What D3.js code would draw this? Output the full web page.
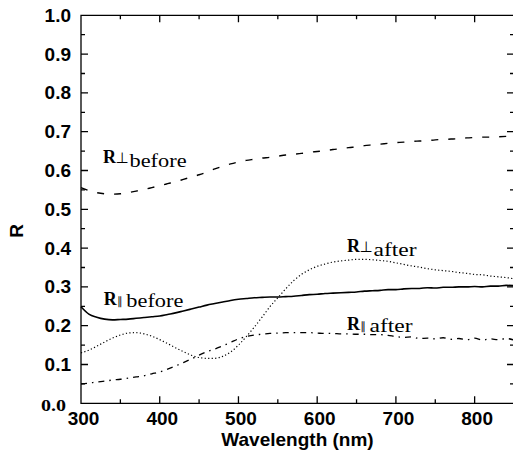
<!DOCTYPE html>
<html>
<head>
<meta charset="utf-8">
<script src="https://cdn.jsdelivr.net/npm/d3@7"></script>
<style>
    body { margin: 0; background: #fff; }
</style>
</head>
<body>
<script>
// wavelength grid (nm) every 10 nm
const wavelengths = [
    300, 310, 320, 330, 340, 350, 360, 370, 380, 390,
    400, 410, 420, 430, 440, 450, 460, 470, 480, 490,
    500, 510, 520, 530, 540, 550, 560, 570, 580, 590,
    600, 610, 620, 630, 640, 650, 660, 670, 680, 690,
    700, 710, 720, 730, 740, 750, 760, 770, 780, 790,
    800, 810, 820, 830, 840, 850
];

// R perpendicular, before (dashed)
const perpBefore = [
    .556, .548, .543, .540, .539, .540, .543, .547, .551, .556,
    .561, .566, .571, .577, .583, .589, .596, .604, .611, .617,
    .622, .626, .629, .632, .634, .637, .640, .642, .644, .647,
    .649, .651, .654, .656, .659, .661, .664, .666, .668, .670,
    .672, .673, .675, .676, .677, .679, .680, .681, .682, .684,
    .685, .686, .686, .687, .688, .689
];

// R parallel, before (solid)
const parBefore = [
    .249, .230, .222, .217, .215, .216, .217, .219, .221, .223,
    .225, .229, .233, .238, .243, .248, .253, .257, .261, .265,
    .268, .270, .272, .273, .274, .274, .275, .276, .278, .280,
    .281, .283, .284, .285, .286, .287, .289, .290, .291, .293,
    .293, .295, .296, .296, .298, .297, .299, .299, .300, .300,
    .301, .300, .302, .302, .304, .303
];

// R perpendicular, after (dotted)
const perpAfter = [
    .130, .137, .147, .158, .168, .176, .181, .182, .179, .173,
    .164, .154, .143, .133, .124, .118, .116, .116, .121, .132,
    .150, .172, .196, .222, .249, .272, .295, .316, .332, .344,
    .353, .359, .364, .367, .369, .371, .371, .370, .368, .366,
    .362, .358, .354, .351, .347, .344, .342, .340, .337, .335,
    .332, .331, .328, .326, .324, .321
];

// R parallel, after (dash-dot)
const parAfter = [
    .050, .052, .055, .057, .060, .062, .065, .068, .071, .076,
    .081, .088, .096, .105, .114, .124, .133, .140, .148, .157,
    .166, .172, .176, .178, .180, .181, .182, .182, .182, .182,
    .181, .180, .180, .179, .179, .178, .178, .177, .177, .175,
    .172, .170, .171, .167, .168, .166, .169, .165, .167, .164,
    .168, .163, .166, .164, .167, .163
];

const xMajorTicks = [300, 400, 500, 600, 700, 800];
const xMinorTicks = [350, 450, 550, 650, 750];
const yMajorTicks = [0, 0.1, 0.2, 0.3, 0.4, 0.5, 0.6, 0.7, 0.8, 0.9, 1.0];
const yMinorTicks = [0.05, 0.15, 0.25, 0.35, 0.45, 0.55, 0.65, 0.75, 0.85, 0.95];

// curve labels: symbol, subscript word, anchor (wavelength, R)
const labelSymbols = ["⊥", "∥", "⊥", "∥"];
const labelWords = ["before", "before", "after", "after"];
const labelAnchors = [[328, 0.619], [329, 0.253], [638, 0.390], [638, 0.189]];

const width = 513;
const height = 458;
const margin = { left: 81, right: -1, top: 15.3, bottom: 54.7 };
const sans = "'Liberation Sans', Arial, Helvetica, sans-serif";
const serif = "'Liberation Serif', 'Times New Roman', serif";
const majorLen = 7;
const minorLen = 4;

const svg = d3.select("body")
    .append("svg")
    .attr("width", width)
    .attr("height", height)
    .style("display", "block");

const x = d3.scaleLinear()
    .domain([300, 850])
    .range([margin.left, width - margin.right]);
const y = d3.scaleLinear()
    .domain([0, 1])
    .range([height - margin.bottom, margin.top]);

// tick labels through d3 axes (frame and ticks drawn as one path below)
const styleAxis = g => {
    g.attr("font-family", sans)
        .attr("font-size", 19)
        .attr("font-weight", "bold");
    g.select(".domain").remove();
    g.selectAll(".tick line").remove();
    g.selectAll(".tick text").attr("fill", "#000");
};

const bottom = svg.append("g")
    .attr("transform", `translate(0,${y(0)})`)
    .call(d3.axisBottom(x).tickValues(xMajorTicks).tickSize(0).tickPadding(8.5).tickFormat(d3.format("d")))
    .call(styleAxis);
bottom.selectAll(".tick text").attr("x", 2);

const left = svg.append("g")
    .attr("transform", `translate(${x(300)},0)`)
    .call(d3.axisLeft(y).tickValues(yMajorTicks).tickSize(0).tickPadding(10).tickFormat(d3.format(".1f")))
    .call(styleAxis);

// the origin label is set in a serif face in the original
left.selectAll(".tick text")
    .filter(d => d === 0)
    .attr("font-family", serif)
    .attr("font-size", 16)
    .attr("x", -15)
    .attr("dy", null)
    .attr("y", 6.7)
    .attr("textLength", 25)
    .attr("lengthAdjust", "spacingAndGlyphs");

// axis titles
svg.append("text")
    .attr("x", (x(300) + x(850)) / 2)
    .attr("y", 446)
    .attr("text-anchor", "middle")
    .attr("font-family", sans)
    .attr("font-weight", "bold")
    .attr("font-size", 19)
    .text("Wavelength (nm)");

svg.append("text")
    .attr("transform", "translate(23,231) rotate(-90)")
    .attr("text-anchor", "middle")
    .attr("font-family", sans)
    .attr("font-weight", "bold")
    .attr("font-size", 19)
    .text("R");

// frame and inward ticks on all four sides as a single path
const frame = d3.path();
frame.moveTo(x(300), y(0));
frame.lineTo(x(850), y(0));
frame.lineTo(x(850), y(1));
frame.lineTo(x(300), y(1));
frame.closePath();
[[xMajorTicks, majorLen], [xMinorTicks, minorLen]].forEach(([vals, len]) => {
    vals.forEach(v => {
        frame.moveTo(x(v), y(0));
        frame.lineTo(x(v), y(0) - len);
        frame.moveTo(x(v), y(1));
        frame.lineTo(x(v), y(1) + len);
    });
});
[[yMajorTicks, majorLen], [yMinorTicks, minorLen]].forEach(([vals, len]) => {
    vals.forEach(v => {
        frame.moveTo(x(300), y(v));
        frame.lineTo(x(300) + len, y(v));
        frame.moveTo(x(850), y(v));
        frame.lineTo(x(850) - len, y(v));
    });
});

// curves
const line = d3.line()
    .x(d => x(d[0]))
    .y(d => y(d[1]))
    .curve(d3.curveMonotoneX);

const series = [
    { d: frame.toString(), dash: null, w: 1.3 },
    { d: line(wavelengths.map((w, i) => [w, perpBefore[i]])), dash: "7,10", w: 1.4 },
    { d: line(wavelengths.map((w, i) => [w, parBefore[i]])), dash: null, w: 1.6 },
    { d: line(wavelengths.map((w, i) => [w, perpAfter[i]])), dash: "1.2,2.3", w: 1.2 },
    { d: line(wavelengths.map((w, i) => [w, parAfter[i]])), dash: "6,5,1.5,5", w: 1.3 }
];

svg.append("g")
    .selectAll("path")
    .data(series)
    .enter()
    .append("path")
    .attr("d", s => s.d)
    .attr("fill", "none")
    .attr("stroke", "#000")
    .attr("stroke-width", s => s.w)
    .attr("stroke-dasharray", s => s.dash);

// curve labels
const labels = svg.append("g")
    .selectAll("g")
    .data(labelAnchors)
    .enter()
    .append("g")
    .attr("transform", d => `translate(${x(d[0])},${y(d[1])})`);

labels.append("text")
    .attr("font-family", serif)
    .attr("font-weight", "bold")
    .attr("font-size", 18)
    .attr("fill", "#000")
    .text("R");

labels.append("text")
    .attr("x", (d, i) => labelSymbols[i] === "⊥" ? 12.5 : 13.5)
    .attr("font-family", "'DejaVu Sans', sans-serif")
    .attr("font-size", (d, i) => labelSymbols[i] === "⊥" ? 15 : 11)
    .attr("fill", "#000")
    .text((d, i) => labelSymbols[i]);

labels.append("text")
    .attr("x", (d, i) => labelSymbols[i] === "⊥" ? 26.5 : 22.5)
    .attr("y", (d, i) => labelSymbols[i] === "⊥" ? 4 : 2)
    .attr("font-family", serif)
    .attr("font-size", 18)
    .attr("fill", "#000")
    .attr("textLength", (d, i) => labelWords[i] === "before" ? 57 : 43)
    .attr("lengthAdjust", "spacingAndGlyphs")
    .text((d, i) => labelWords[i]);
</script>
</body>
</html>
